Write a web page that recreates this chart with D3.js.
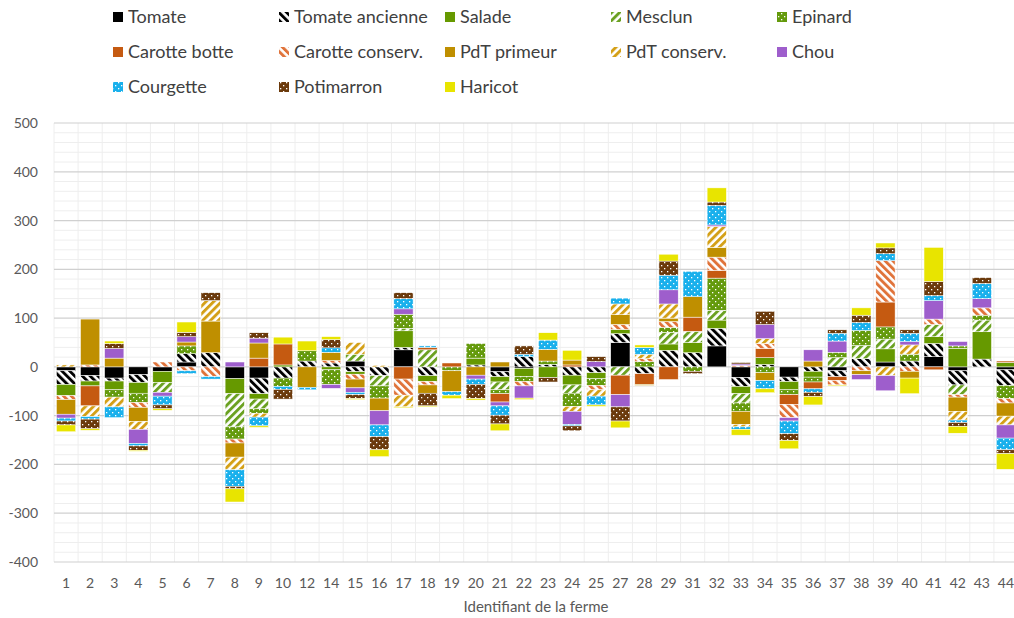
<!DOCTYPE html>
<html>
<head>
<meta charset="utf-8">
<script src="https://cdn.jsdelivr.net/npm/d3@7"></script>
<style>
  body { margin: 0; background: #fff; }
  svg { display: block; font-family: Lato, "Open Sans", sans-serif; }
</style>
</head>
<body>
<svg id="chart" width="1014" height="618"></svg>
<script>
// Farm ids on the x axis
const farms = ['1','2','3','4','5','6','7','8','9','10','12','14','15','16','17','18','19','20','21','22',
  '23','24','25','27','28','29','31','32','33','34','35','36','37','38','39','40','41','42','43','44'];

// One value per farm, per crop
const tomate      = [-8,-18,-23,-16,-9,10,0,-24,-23,0,0,0,12,0,35,0,0,0,-10,-3,0,0,0,50,0,0,0,43,-22,0,-21,0,-8,0,10,0,21,-8,0,-6];
const tomateAnc   = [-28,-11,-6,-16,0,17,29,0,-32,-23,12,8,-10,-18,5,-18,0,4,-10,21,5,-17,-12,18,-14,34,29,36,-18,5,-9,-9,-12,17,0,12,27,-29,16,-32];
const salade      = [-23,-10,-18,-22,-23,0,0,-31,-11,4,0,-6,-5,0,34,-12,0,14,-11,-17,-22,-20,-12,9,0,13,21,17,-15,14,-17,-12,0,0,27,0,14,38,56,9];
const mesclun     = [0,0,0,0,-20,0,0,-68,-20,0,0,0,14,-21,5,35,0,0,-16,0,0,-17,0,-17,0,24,23,20,-19,0,0,0,19,27,20,0,25,-20,24,0];
const epinard     = [0,0,-15,-19,0,16,0,-25,-9,-17,21,-30,0,-25,29,0,-8,30,-8,-10,7,-27,-14,0,11,10,-9,66,-17,-12,-10,-10,11,31,25,14,0,5,10,-27];
const carotteB    = [0,-41,0,0,0,0,0,0,18,43,0,0,0,0,-25,5,8,0,-17,0,0,4,0,-40,-22,-26,29,16,0,19,-20,-14,-8,0,51,0,-6,0,0,3];
const carotteC    = [-8,4,0,-10,10,-8,-20,-8,0,0,0,5,-10,0,-33,-7,0,0,0,-9,0,0,-9,10,6,12,0,27,3,10,-27,0,-9,-8,85,-9,11,-5,15,-9];
const pdtPrimeur  = [-30,94,18,-29,0,8,65,-29,31,0,-42,17,-18,-26,0,-17,-43,-17,10,0,24,10,0,20,-2,7,42,20,-27,-16,0,12,0,-8,0,-14,0,-29,0,-27];
const pdtConserv  = [4,-22,-20,-16,0,0,42,-26,-8,0,0,0,24,3,-24,0,0,0,0,0,0,-10,-13,22,9,29,0,43,-5,10,0,0,0,0,-18,19,0,-18,0,-18];
const chou        = [-8,0,20,-29,-8,11,0,10,10,0,0,-8,-9,-29,11,0,0,-8,-8,-25,0,-27,11,-25,0,29,0,3,3,29,-7,23,23,-10,-31,7,38,9,19,-27];
const courgette   = [-6,-5,-22,-5,-18,-6,-5,-34,-18,-6,-5,9,-5,-24,21,3,-7,-11,-19,5,19,-3,-18,12,14,30,52,40,-5,-17,-26,-7,16,16,14,17,10,-5,31,-24];
const potimarron  = [-8,-20,10,-9,-8,9,16,-5,11,-20,0,17,-8,-27,12,-26,0,-29,-18,17,-9,-10,10,-29,0,29,-5,7,3,27,-14,-9,7,15,12,7,29,-8,12,-8];
const haricot     = [-14,-3,5,-2,-3,21,0,-27,-3,14,20,6,-2,-14,-2,-2,-7,-3,-14,-3,15,20,-3,-14,5,14,0,29,-12,-8,-17,-17,-2,15,10,-32,70,-14,0,-32];

const seriesNames = ['Tomate','Tomate ancienne','Salade','Mesclun','Epinard','Carotte botte','Carotte conserv.',
  'PdT primeur','PdT conserv.','Chou','Courgette','Potimarron','Haricot'];
const seriesValues = [tomate, tomateAnc, salade, mesclun, epinard, carotteB, carotteC,
  pdtPrimeur, pdtConserv, chou, courgette, potimarron, haricot];

const yTicks = [500,400,300,200,100,0,-100,-200,-300,-400];

// fill style of each crop: solid, stripes or dots
const styles = [
  { type: 'solid',  color: '#000000' },
  { type: 'stripe', color: '#000000', angle: -45 },
  { type: 'solid',  color: '#669900' },
  { type: 'stripe', color: '#6aa121', angle: 45 },
  { type: 'dots',   color: '#649a0c' },
  { type: 'solid',  color: '#c55a11' },
  { type: 'stripe', color: '#e0733a', angle: -45 },
  { type: 'solid',  color: '#bf8f00' },
  { type: 'stripe', color: '#d4a017', angle: 45 },
  { type: 'solid',  color: '#9e5ecc' },
  { type: 'dots',   color: '#19b0ec' },
  { type: 'dots',   color: '#6b3a0c' },
  { type: 'solid',  color: '#e8e400' }
];

const svg = d3.select('#chart');
const plot = { left: 54, right: 1018, top: 123, bottom: 562 };

// patterns
const defs = svg.append('defs');
styles.forEach((s, i) => {
  if (s.type === 'stripe') {
    const p = defs.append('pattern').attr('id', 'pat' + i)
      .attr('patternUnits', 'userSpaceOnUse').attr('width', 5.5).attr('height', 5.5)
      .attr('patternTransform', `rotate(${s.angle})`);
    p.append('rect').attr('width', 5.5).attr('height', 5.5).attr('fill', '#fff');
    p.append('rect').attr('width', 2.9).attr('height', 5.5).attr('fill', s.color);
  } else if (s.type === 'dots') {
    const p = defs.append('pattern').attr('id', 'pat' + i)
      .attr('patternUnits', 'userSpaceOnUse').attr('width', 6).attr('height', 6);
    p.append('rect').attr('width', 6).attr('height', 6).attr('fill', s.color);
    p.append('rect').attr('x', 1).attr('y', 1).attr('width', 1.3).attr('height', 1.3).attr('fill', '#fff');
    p.append('rect').attr('x', 4).attr('y', 4).attr('width', 1.3).attr('height', 1.3).attr('fill', '#fff');
  }
});
const fillOf = i => styles[i].type === 'solid' ? styles[i].color : `url(#pat${i})`;

// data table for the stack
const rows = farms.map((f, i) => {
  const r = { farm: f };
  seriesNames.forEach((n, k) => { r[n] = seriesValues[k][i]; });
  return r;
});

const stack = d3.stack().keys(seriesNames).offset(d3.stackOffsetDiverging);
const layers = stack(rows);

const x = d3.scaleBand().domain(farms).range([plot.left, plot.right])
  .paddingInner(0.2).paddingOuter(0.1);
const y = d3.scaleLinear().domain([-400, 500]).range([plot.bottom, plot.top]);

// gridlines
const grid = svg.append('g');
grid.selectAll('line.minor')
  .data(d3.range(-400, 501, 20).filter(v => v % 100 !== 0))
  .enter().append('line')
  .attr('x1', plot.left).attr('x2', plot.right)
  .attr('y1', d => y(d)).attr('y2', d => y(d))
  .attr('stroke', '#eeeeee').attr('stroke-width', 1);
grid.selectAll('line.vert')
  .data(d3.range(farms.length + 1))
  .enter().append('line')
  .attr('x1', d => plot.left + d * x.step()).attr('x2', d => plot.left + d * x.step())
  .attr('y1', plot.top).attr('y2', plot.bottom)
  .attr('stroke', '#eeeeee').attr('stroke-width', 1);
grid.selectAll('line.major')
  .data(yTicks)
  .enter().append('line')
  .attr('x1', plot.left).attr('x2', plot.right)
  .attr('y1', d => y(d)).attr('y2', d => y(d))
  .attr('stroke', '#d0d0d0').attr('stroke-width', 1.2);

// bars
svg.append('g').selectAll('g')
  .data(layers)
  .enter().append('g')
  .attr('fill', (d, i) => fillOf(i))
  .selectAll('rect')
  .data(d => d.filter(s => s[1] !== s[0]))
  .enter().append('rect')
  .attr('x', d => x(d.data.farm))
  .attr('width', x.bandwidth())
  .attr('y', d => y(Math.max(d[0], d[1])))
  .attr('height', d => Math.abs(y(d[0]) - y(d[1])))
  .attr('stroke', '#ffffff').attr('stroke-width', 0.5);

// y axis labels
svg.append('g').selectAll('text')
  .data(yTicks)
  .enter().append('text')
  .attr('x', 38).attr('y', d => y(d) + 5)
  .attr('text-anchor', 'end')
  .attr('font-size', 14).attr('fill', '#595959')
  .text(d => d);

// x axis labels
svg.append('g').selectAll('text')
  .data(farms)
  .enter().append('text')
  .attr('x', d => x(d) + x.bandwidth() / 2).attr('y', 588)
  .attr('text-anchor', 'middle')
  .attr('font-size', 14).attr('fill', '#595959')
  .text(d => d);

svg.append('text')
  .attr('x', (plot.left + plot.right) / 2).attr('y', 612)
  .attr('text-anchor', 'middle')
  .attr('font-size', 15).attr('fill', '#595959')
  .text('Identifiant de la ferme');

// legend, 5 columns x 3 rows
const legend = svg.append('g');
seriesNames.forEach((n, i) => {
  const col = i % 5, row = Math.floor(i / 5);
  const lx = 113 + col * 166, ly = 17 + row * 35;
  legend.append('rect')
    .attr('x', lx).attr('y', ly - 5).attr('width', 10).attr('height', 10)
    .attr('fill', fillOf(i));
  legend.append('text')
    .attr('x', lx + 15).attr('y', ly + 6)
    .attr('font-size', 18).attr('fill', '#404040')
    .text(n);
});
</script>
</body>
</html>
